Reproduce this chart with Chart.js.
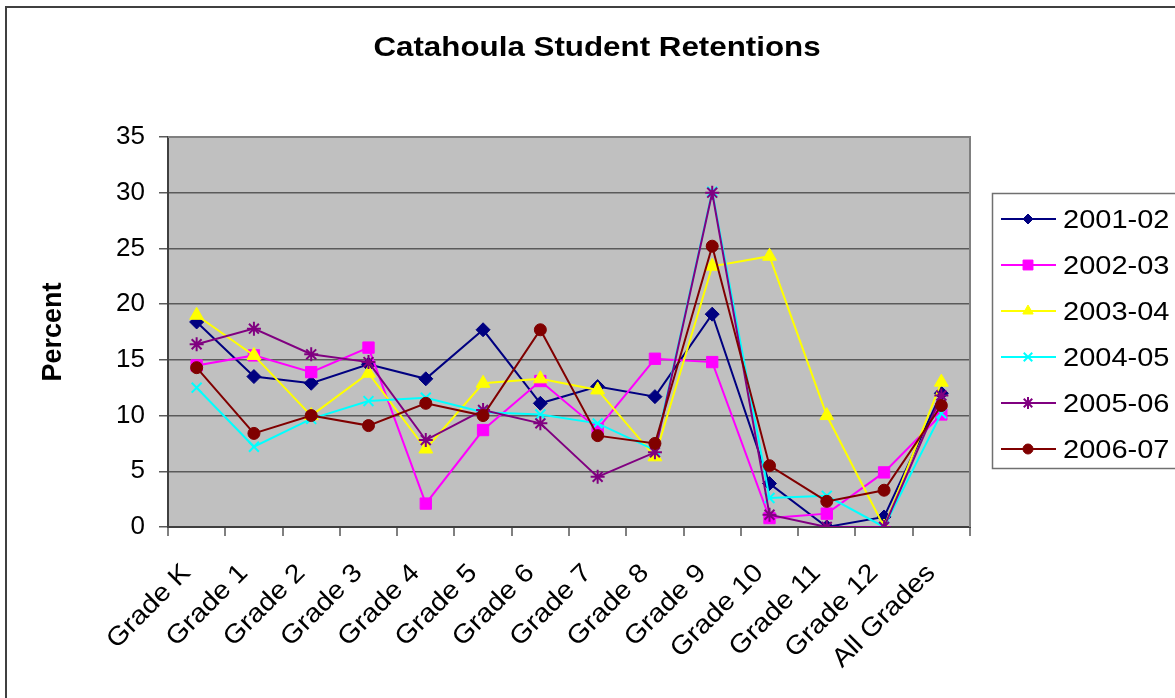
<!DOCTYPE html>
<html>
<head>
<meta charset="utf-8">
<style>
  html, body { margin: 0; padding: 0; background: #ffffff; }
  #retentionChart { display: block; }
</style>
<script src="https://cdn.jsdelivr.net/npm/chart.js@4.4.0/dist/chart.umd.min.js"></script>
</head>
<body>
<canvas id="retentionChart" width="1175" height="698"></canvas>
<script>

const chartTitle = 'Catahoula Student Retentions';

const grades = ['Grade K', 'Grade 1', 'Grade 2', 'Grade 3', 'Grade 4', 'Grade 5', 'Grade 6',
    'Grade 7', 'Grade 8', 'Grade 9', 'Grade 10', 'Grade 11', 'Grade 12', 'All Grades'];

const years = ['2001-02', '2002-03', '2003-04', '2004-05', '2005-06', '2006-07'];

const y2001 = [18.4, 13.5, 12.9, 14.6, 13.3, 17.7, 11.1, 12.6, 11.7, 19.1, 3.9, 0, 0.9, 12.0];
const y2002 = [14.5, 15.4, 13.9, 16.1, 2.1, 8.7, 13.1, 8.8, 15.1, 14.8, 0.8, 1.2, 4.9, 10.1];
const y2003 = [19.0, 15.4, 10.0, 13.8, 7.0, 12.9, 13.3, 12.3, 6.3, 23.4, 24.3, 10.0, 0, 13.0];
const y2004 = [12.5, 7.2, 9.7, 11.3, 11.6, 10.3, 10.1, 9.3, 6.9, 30.1, 2.6, 2.8, 0, 10.2];
const y2005 = [16.4, 17.8, 15.5, 14.8, 7.8, 10.5, 9.3, 4.5, 6.7, 30.0, 1.1, 0, 0, 11.8];
const y2006 = [14.3, 8.4, 10.0, 9.1, 11.1, 10.0, 17.7, 8.2, 7.5, 25.2, 5.5, 2.3, 3.3, 10.9];

const yTicks = [0, 5, 10, 15, 20, 25, 30, 35];

const seriesValues = [y2001, y2002, y2003, y2004, y2005, y2006];
const colors = ['#000080', '#FF00FF', '#FFFF00', '#00FFFF', '#800080', '#800000'];
const markers = ['rectRot', 'rect', 'triangle', 'crossRot', 'star', 'circle'];
const markerSize = [7, 8, 8, 7, 7, 6];
const legendSize = [5, 7, 6, 6, 6, 5];

const FONT = "'Liberation Sans', Arial, Helvetica, sans-serif";
// Excel draws its Arial a little wider than ours
const STRETCH = 1.16;

const plotFrame = {
    id: 'plotFrame',
    beforeDraw: (chart) => {
        const ctx = chart.ctx;
        const { top, left, right, bottom } = chart.chartArea;
        ctx.save();
        ctx.fillStyle = '#C0C0C0';
        ctx.fillRect(left, top, right - left, bottom - top);
        // outer chart border
        ctx.strokeStyle = '#404040';
        ctx.lineWidth = 2;
        ctx.strokeRect(6, 7, 1200, 720);
        ctx.restore();
    },
    beforeDatasetsDraw: (chart) => {
        const ctx = chart.ctx;
        const { top, left, right, bottom } = chart.chartArea;
        ctx.save();
        ctx.strokeStyle = '#808080';
        ctx.lineWidth = 2;
        ctx.beginPath();
        ctx.moveTo(left, top);
        ctx.lineTo(right, top);
        ctx.lineTo(right, bottom);
        ctx.stroke();
        ctx.restore();
    }
};

const stretchedText = {
    id: 'stretchedText',
    afterDraw: (chart) => {
        const ctx = chart.ctx;
        ctx.save();
        ctx.fillStyle = '#000000';

        // chart title
        ctx.save();
        ctx.translate(597, 56);
        ctx.scale(STRETCH, 1);
        ctx.font = 'bold 27px ' + FONT;
        ctx.textAlign = 'center';
        ctx.textBaseline = 'alphabetic';
        ctx.fillText(chartTitle, 0, 0);
        ctx.restore();

        // category labels at 45 degrees
        const xs = chart.scales.x;
        chart.data.labels.forEach((label, i) => {
            const px = xs.getPixelForTick(i);
            ctx.save();
            ctx.translate(px - 10, xs.top + 42);
            ctx.rotate(-Math.PI / 4);
            ctx.scale(1.1, 1);
            ctx.font = '26px ' + FONT;
            ctx.textAlign = 'right';
            ctx.textBaseline = 'middle';
            ctx.fillText(label, 0, 0);
            ctx.restore();
        });
        ctx.restore();
    }
};

const lineLegend = {
    id: 'lineLegend',
    afterDraw: (chart) => {
        const ctx = chart.ctx;
        const boxX = 992, boxY = 193;
        ctx.save();
        ctx.fillStyle = '#ffffff';
        ctx.fillRect(boxX, boxY, 200, 275);
        ctx.strokeStyle = '#707070';
        ctx.lineWidth = 1.5;
        ctx.strokeRect(boxX + 0.5, boxY + 0.5, 200, 275);

        chart.data.datasets.forEach((ds, i) => {
            const y = 219 + i * 46;
            ctx.strokeStyle = ds.borderColor;
            ctx.lineWidth = 2;
            ctx.beginPath();
            ctx.moveTo(1001, y);
            ctx.lineTo(1056, y);
            ctx.stroke();

            ctx.fillStyle = ds.backgroundColor;
            ctx.strokeStyle = ds.borderColor;
            ctx.lineWidth = (ds.pointStyle === 'crossRot' || ds.pointStyle === 'star') ? 2 : 1;
            Chart.helpers.drawPoint(ctx, {
                pointStyle: ds.pointStyle,
                radius: legendSize[i],
                rotation: 0,
                borderWidth: ctx.lineWidth
            }, 1028, y);

            ctx.save();
            ctx.translate(1063, y + 9);
            ctx.scale(STRETCH, 1);
            ctx.fillStyle = '#000000';
            ctx.font = '25px ' + FONT;
            ctx.textAlign = 'left';
            ctx.textBaseline = 'alphabetic';
            ctx.fillText(ds.label, 0, 0);
            ctx.restore();
        });
        ctx.restore();
    }
};

const datasets = years.map((year, i) => ({
    label: year,
    data: seriesValues[i],
    borderColor: colors[i],
    backgroundColor: colors[i],
    borderWidth: 2,
    pointStyle: markers[i],
    pointRadius: markerSize[i],
    pointHoverRadius: markerSize[i],
    pointBorderWidth: (markers[i] === 'crossRot' || markers[i] === 'star') ? 2 : 1,
    pointBackgroundColor: colors[i],
    pointBorderColor: colors[i],
    tension: 0,
    order: years.length - i
}));

const config = {
    type: 'line',
    data: {
        labels: grades,
        datasets: datasets
    },
    plugins: [plotFrame, stretchedText, lineLegend],
    options: {
        responsive: false,
        animation: false,
        events: [],
        layout: {
            padding: { left: 0, right: 205, top: 137, bottom: 0 }
        },
        plugins: {
            legend: { display: false },
            tooltip: { enabled: false },
            title: { display: false }
        },
        scales: {
            x: {
                type: 'category',
                offset: true,
                afterFit: (scale) => { scale.height = 171; },
                grid: {
                    offset: true,
                    drawOnChartArea: false,
                    drawTicks: true,
                    tickLength: 9,
                    color: '#808080',
                    lineWidth: 2
                },
                border: { color: '#404040', width: 2 },
                ticks: {
                    display: false,
                    autoSkip: false
                }
            },
            y: {
                min: 0,
                max: 35,
                afterFit: (scale) => { scale.width = 168; },
                afterBuildTicks: (scale) => {
                    scale.ticks = yTicks.map(v => ({ value: v }));
                },
                grid: {
                    color: '#5a5a5a',
                    lineWidth: 1.5,
                    drawTicks: true,
                    tickLength: 9
                },
                border: { color: '#404040', width: 2 },
                ticks: {
                    color: '#000000',
                    padding: 14,
                    font: { family: FONT, size: 26 }
                },
                title: {
                    display: true,
                    text: 'Percent',
                    color: '#000000',
                    font: { family: FONT, size: 27, weight: 'bold' },
                    padding: { top: 37, bottom: 0 }
                }
            }
        }
    }
};

const retentionChart = new Chart(
    document.getElementById('retentionChart'),
    config
);
</script>
</body>
</html>
